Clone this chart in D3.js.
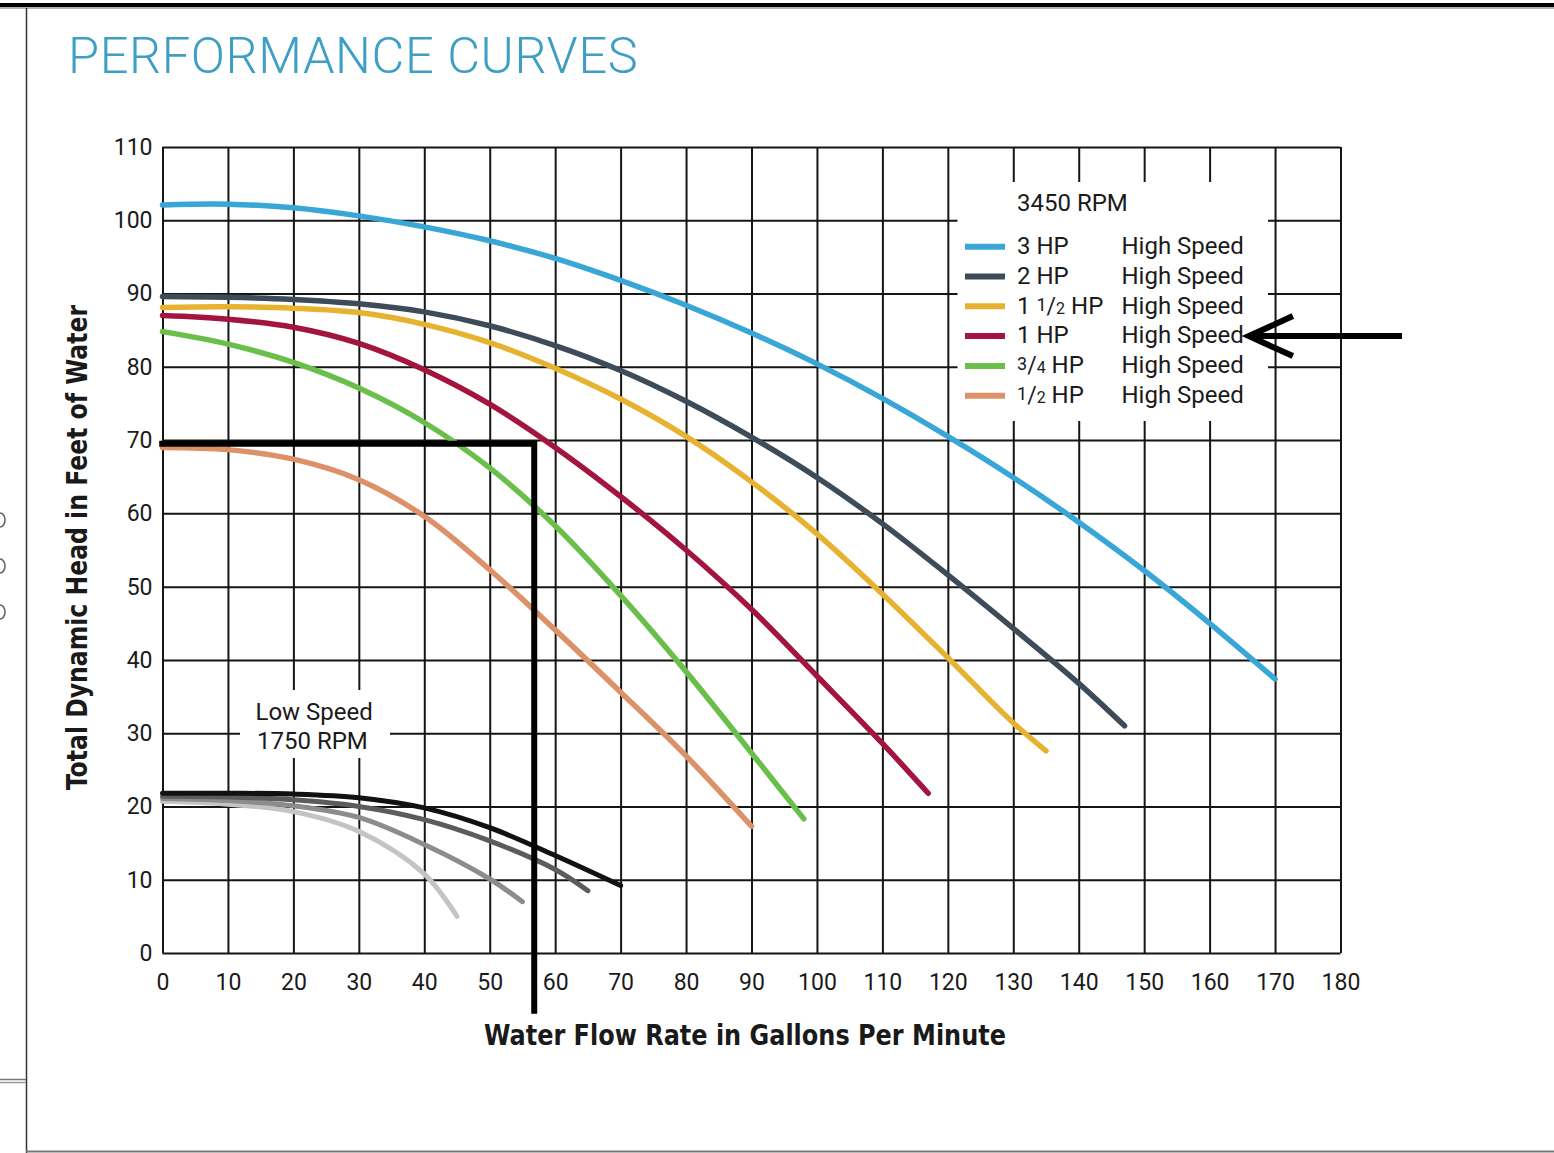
<!DOCTYPE html>
<html>
<head>
<meta charset="utf-8">
<script src="https://cdn.jsdelivr.net/npm/d3@7"></script>
<style>
body { margin: 0; background: #fff; }
svg { display: block; }
text { font-family: Roboto, "DejaVu Sans", sans-serif; fill: #1a1a1a; }
</style>
</head>
<body>
<div id="chart"></div>
<script>
// Tick values for both axes
var flowTicks = [0, 10, 20, 30, 40, 50, 60, 70, 80, 90, 100, 110, 120, 130, 140, 150, 160, 170, 180];
var headTicks = [0, 10, 20, 30, 40, 50, 60, 70, 80, 90, 100, 110];

// High speed (3450 RPM) curves, [gpm, feet of head]
var hp3 = [[0,102.1],[10,102.2],[20,101.7],[30,100.6],[40,99.1],[50,97.2],[60,94.8],[70,91.8],[80,88.4],[90,84.6],[100,80.4],[110,75.7],[120,70.5],[130,64.9],[140,58.8],[150,52.2],[160,45.0],[170,37.4]];
var hp2 = [[0,89.6],[10,89.5],[20,89.2],[30,88.6],[40,87.5],[50,85.6],[60,82.9],[70,79.5],[80,75.3],[90,70.4],[100,64.9],[110,58.6],[120,51.6],[130,44.3],[140,36.8],[147,31.0]];
var hp15 = [[0,88.1],[10,88.2],[20,88.0],[30,87.4],[40,85.8],[50,83.3],[60,79.8],[70,75.6],[80,70.5],[90,64.3],[100,57.2],[110,49.0],[120,40.3],[130,31.4],[135,27.6]];
var hp1 = [[0,87.0],[10,86.5],[20,85.4],[30,83.2],[40,79.6],[50,74.9],[60,69.0],[70,62.3],[80,55.0],[90,46.9],[100,37.8],[110,28.6],[117,21.8]];
var hp34 = [[0,84.8],[10,83.1],[20,80.6],[30,77.1],[40,72.4],[50,66.2],[60,58.3],[70,48.8],[80,38.4],[90,27.3],[98,18.3]];
var hp12 = [[0,69.0],[10,68.7],[20,67.4],[30,64.6],[40,59.6],[50,52.3],[60,44.1],[70,35.6],[80,26.9],[90,17.3]];

var highLabels = ["3 HP", "2 HP", "1 1/2 HP", "1 HP", "3/4 HP", "1/2 HP"];
var highColors = ["#38a6d6", "#3e4b58", "#e8b231", "#a3153e", "#6abf4b", "#dc9168"];

// Low speed (1750 RPM) curves, lightest first
var lowA = [[0,20.7],[10,20.3],[20,19.3],[30,16.6],[40,10.8],[45,5.0]];
var lowB = [[0,21.1],[10,20.8],[20,20.1],[30,18.5],[40,14.8],[50,10.1],[55,7.0]];
var lowC = [[0,21.4],[10,21.3],[20,20.9],[30,20.0],[40,18.2],[50,15.3],[60,11.4],[65,8.5]];
var lowD = [[0,21.8],[10,21.8],[20,21.7],[30,21.2],[40,19.8],[50,17.1],[60,13.3],[70,9.2]];
var lowColors = ["#c4c4c4", "#8c8c8c", "#5c5c5c", "#111111"];

// Operating point marker drawn in black (gpm, head)
var markFlow = [-0.5, 56.8, 56.8];
var markHead = [69.5, 69.5, -8.3];
// Arrow pointing at the 1 HP legend row (gpm span)
var arrowFlow = [166.0, 189.4];

var width = 1554;
var height = 1153;

var svg = d3.select("#chart")
    .append("svg")
        .attr("width", width)
        .attr("height", height)
        .style("background", "#fff");

// page frame from the screenshot
svg.append("rect").attr("x", 0).attr("y", 3).attr("width", width).attr("height", 4).attr("fill", "#000");
svg.append("line").attr("x1", 0).attr("x2", width).attr("y1", 8).attr("y2", 8).attr("stroke", "#999").attr("stroke-width", 1.5);
svg.append("line").attr("x1", 26.5).attr("x2", 26.5).attr("y1", 8).attr("y2", height).attr("stroke", "#333").attr("stroke-width", 1.5);
svg.append("line").attr("x1", 0).attr("x2", 26).attr("y1", 1079.5).attr("y2", 1079.5).attr("stroke", "#777").attr("stroke-width", 1.5);
svg.append("line").attr("x1", 0).attr("x2", 26).attr("y1", 1082.5).attr("y2", 1082.5).attr("stroke", "#999").attr("stroke-width", 1.5);
svg.append("line").attr("x1", 26).attr("x2", width).attr("y1", 1151.5).attr("y2", 1151.5).attr("stroke", "#777").attr("stroke-width", 2);
// clipped glyph fragments at the far left of the screenshot
[520, 566, 612].forEach(function(yy) {
    svg.append("path")
        .attr("d", "M0," + (yy - 7) + "A5,7 0 0 1 0," + (yy + 7))
        .attr("fill", "none")
        .attr("stroke", "#666")
        .attr("stroke-width", 1.6);
});

svg.append("text")
    .attr("x", 68)
    .attr("y", 73)
    .attr("font-size", 50.5)
    .attr("font-weight", 300)
    .attr("letter-spacing", 0.6)
    .style("fill", "#3d9fc5")
    .text("PERFORMANCE CURVES");

var x = d3.scaleLinear().domain([0, 180]).range([162.5, 1340.5]);
var y = d3.scaleLinear().domain([0, 110]).range([953, 147]);

// grid + tick labels from the axes
var gx = svg.append("g")
    .attr("transform", "translate(0," + y(0) + ")")
    .call(d3.axisBottom(x).tickValues(flowTicks).tickSize(-(y(0) - y(110))).tickPadding(21));
var gy = svg.append("g")
    .attr("transform", "translate(" + x(0) + ",0)")
    .call(d3.axisLeft(y).tickValues(headTicks).tickSize(-(x(180) - x(0))).tickPadding(10));

[gx, gy].forEach(function(g) {
    g.attr("font-family", null).attr("font-size", 23).attr("color", "#151515");
    g.select(".domain").remove();
    g.selectAll(".tick line").attr("stroke-width", 2);
});

// white boxes behind the legend and the low speed label
svg.append("rect").attr("x", 957.5).attr("y", 182).attr("width", 310.5).attr("height", 239).attr("fill", "#fff");
svg.append("rect").attr("x", 240).attr("y", 690).attr("width", 150).attr("height", 68).attr("fill", "#fff");

var line = d3.line()
    .x(function(d) { return x(d[0]); })
    .y(function(d) { return y(d[1]); })
    .curve(d3.curveCatmullRom.alpha(0.5));

svg.append("g").selectAll("path")
    .data([lowA, lowB, lowC, lowD])
    .enter().append("path")
        .attr("d", line)
        .attr("fill", "none")
        .attr("stroke", function(d, i) { return lowColors[i]; })
        .attr("stroke-width", 5)
        .attr("stroke-linecap", "round");

svg.append("g").selectAll("path")
    .data([hp3, hp2, hp15, hp1, hp34, hp12])
    .enter().append("path")
        .attr("d", line)
        .attr("fill", "none")
        .attr("stroke", function(d, i) { return highColors[i]; })
        .attr("stroke-width", 5.5)
        .attr("stroke-linecap", "round");

// black operating point lines
svg.append("path")
    .attr("d", d3.line()(markFlow.map(function(f, i) { return [x(f), y(markHead[i])]; })))
    .attr("fill", "none")
    .attr("stroke", "#000")
    .attr("stroke-width", 6)
    .attr("stroke-linejoin", "miter");

// legend
var legend = svg.append("g");
legend.append("text").attr("x", 1017).attr("y", 210.5).attr("font-size", 24).text("3450 RPM");

var rowBase = 254;
var rowStep = 29.8;
highLabels.forEach(function(lbl, i) {
    var row = legend.append("g").attr("transform", "translate(0," + (rowBase + i * rowStep) + ")");
    row.append("line")
        .attr("x1", 965).attr("x2", 1005)
        .attr("y1", -7.3).attr("y2", -7.3)
        .attr("stroke", highColors[i])
        .attr("stroke-width", 6);
    var t = row.append("text").attr("x", 1017).attr("y", 0).attr("font-size", 24);
    // split "1 1/2 HP" style labels into whole part, fraction and unit
    var m = lbl.match(/^(\d+ )?(\d)\/(\d)( .*)$/);
    if (m) {
        if (m[1]) t.append("tspan").text(m[1]);
        t.append("tspan").attr("font-size", 18).attr("dy", -3).text(m[2]);
        t.append("tspan").attr("font-size", 23).attr("dy", 3).text("/");
        t.append("tspan").attr("font-size", 16).text(m[3]);
        t.append("tspan").text(m[4]);
    } else {
        t.text(lbl);
    }
    row.append("text").attr("x", 1121.5).attr("y", 0).attr("font-size", 24).text("High Speed");
});

// arrow pointing at the 1 HP row
var arrowY = rowBase + 3 * rowStep - 7.3;
var tipX = x(arrowFlow[0]);
svg.append("line")
    .attr("x1", tipX + 2).attr("x2", x(arrowFlow[1]))
    .attr("y1", arrowY).attr("y2", arrowY)
    .attr("stroke", "#000").attr("stroke-width", 6);
svg.append("path")
    .attr("d", "M" + (tipX + 44) + "," + (arrowY - 20) + "L" + tipX + "," + arrowY + "L" + (tipX + 44) + "," + (arrowY + 20))
    .attr("fill", "none")
    .attr("stroke", "#000")
    .attr("stroke-width", 6)
    .attr("stroke-linejoin", "miter");

// low speed label
svg.append("text").attr("x", 255.5).attr("y", 720).attr("font-size", 24).text("Low Speed");
svg.append("text").attr("x", 257).attr("y", 748.5).attr("font-size", 24).text("1750 RPM");

// axis titles
svg.append("text")
    .attr("transform", "translate(87,547.5) rotate(-90)")
    .attr("text-anchor", "middle")
    .attr("font-size", 29)
    .attr("font-weight", "bold")
    .attr("textLength", 485)
    .attr("lengthAdjust", "spacingAndGlyphs")
    .style("font-family", "'DejaVu Sans Condensed', Roboto, sans-serif")
    .text("Total Dynamic Head in Feet of Water");

svg.append("text")
    .attr("x", 745)
    .attr("y", 1045)
    .attr("text-anchor", "middle")
    .attr("font-size", 29)
    .attr("font-weight", "bold")
    .attr("textLength", 522)
    .attr("lengthAdjust", "spacingAndGlyphs")
    .style("font-family", "'DejaVu Sans Condensed', Roboto, sans-serif")
    .text("Water Flow Rate in Gallons Per Minute");
</script>
</body>
</html>
